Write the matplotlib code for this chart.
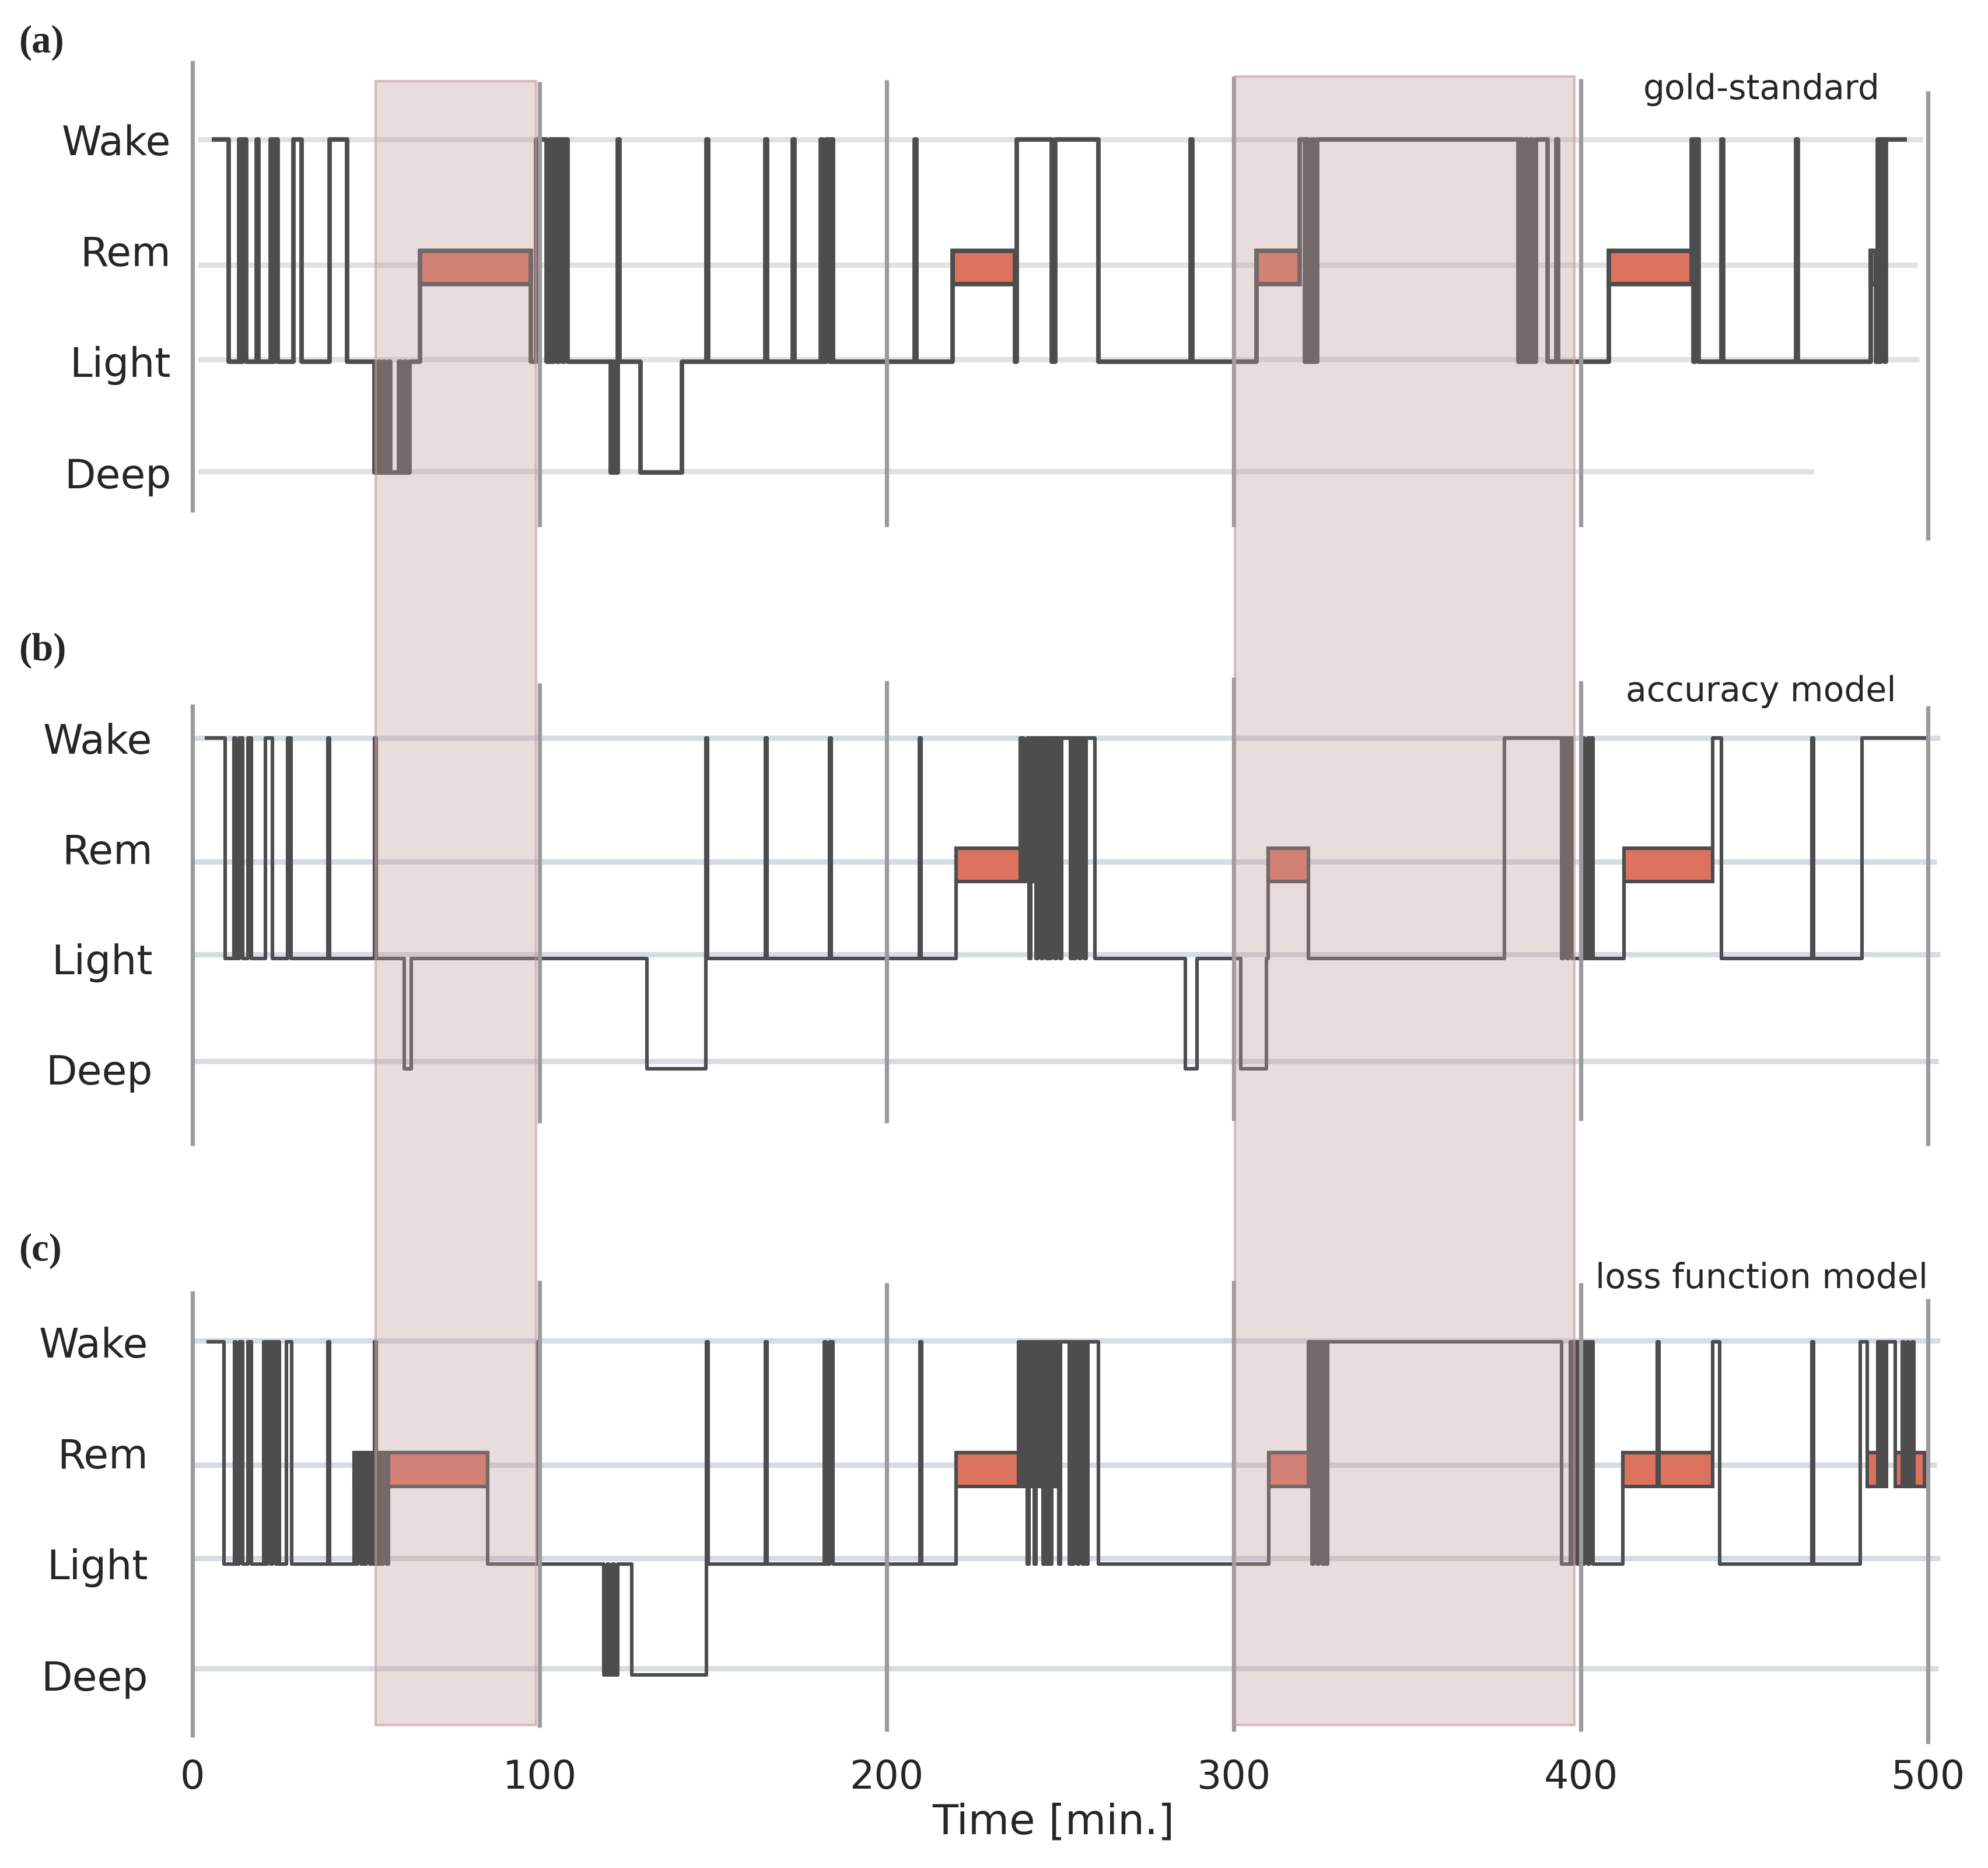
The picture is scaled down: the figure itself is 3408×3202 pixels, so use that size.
import matplotlib
matplotlib.use("Agg")
import matplotlib.pyplot as plt
from matplotlib.patches import Rectangle
from matplotlib.transforms import blended_transform_factory

plt.rcParams['font.family'] = ['DejaVu Sans']

# sleep stages, bottom to top
stage_labels = ['Deep', 'Light', 'Rem', 'Wake']
level = {'D': 0, 'L': 1, 'R': 2, 'W': 3}
time_ticks = [0, 100, 200, 300, 400, 500]

# change points [min] and the stage that starts there (last entry = end of record)
gold_t = [5.5, 10.5, 13.5, 14.0, 14.5, 15.5, 18.5, 19.0, 22.5, 23.0, 23.5, 24.5, 29.0, 31.5, 39.5, 44.5,
          52.5, 53.5, 54.0, 55.0, 55.5, 56.5, 57.0, 59.5, 60.0, 61.0, 61.5, 62.5, 65.5, 97.5,
          99.0, 102.0, 103.0, 103.5, 104.0, 105.0, 105.5, 106.5, 107.0, 108.0,
          120.5, 121.0, 121.5, 122.5, 123.0, 129.0, 141.0, 148.0, 148.5, 165.0, 165.5,
          173.0, 173.5, 181.0, 181.5, 182.5, 183.5, 184.0, 184.5, 208.0, 208.5,
          219.0, 237.0, 237.5, 247.5, 248.5, 261.0, 287.5, 288.0, 306.5,
          319.0, 320.5, 321.0, 321.5, 322.5, 323.0, 324.0,
          382.0, 382.5, 383.0, 384.0, 384.5, 385.5, 386.0, 387.0, 390.5, 393.0, 393.5,
          408.0, 432.0, 432.5, 433.0, 434.0, 440.5, 441.0, 462.0, 462.5,
          483.5, 485.0, 485.5, 486.0, 486.5, 487.5, 488.0, 494.0]
gold_s = list("WLWLWLWLWLWLWLWL"
              "DLDLDLDLDLDLRL"
              "WLWLWLWLWL"
              "DLDWLDLWLWL"
              "WLWLWLWLWL"
              "RLWLWLWLR"
              "WLWLWLW"
              "LWLWLWLWLWL"
              "RWLWLWLWL"
              "RLWLWLWW")

acc_t = [3.5, 9.5, 12.0, 12.5, 13.5, 14.5, 16.0, 17.0, 21.0, 23.0, 27.5, 28.5, 39.0, 39.5, 52.5, 53.0,
         61.0, 63.0, 131.0, 148.0, 148.5, 165.0, 165.5, 183.5, 184.0, 209.5, 210.0,
         220.0, 238.5, 239.5, 240.5, 241.0, 241.5, 242.0, 242.5, 243.0, 243.5, 244.5, 245.0,
         246.0, 246.5, 247.0, 247.5, 248.5, 249.0, 250.0, 250.5,
         253.0, 253.5, 254.0, 254.5, 255.5, 256.0, 257.0, 257.5, 260.0,
         286.0, 289.5, 302.0, 309.5, 310.0, 321.5, 378.0,
         394.5, 395.0, 396.0, 396.5, 397.5, 400.5, 401.0, 402.0, 402.5, 403.0, 403.5,
         412.5, 438.0, 440.5, 466.5, 467.0, 481.0, 499.5]
acc_s = list("WLWLWLWLWLWLWLWL"
             "DLDWLWLWLWL"
             "RWRWLWRWLWLWLWLWLWLW"
             "LWLWLWLWL"
             "DLDLRLW"
             "LWLWLWLWLWL"
             "RWLWLWW")

loss_t = [4.0, 9.0, 12.0, 12.5, 13.5, 14.5, 16.0, 17.0, 20.5, 21.0, 21.5, 22.5, 23.0, 24.0, 24.5, 25.0,
          27.0, 28.5, 39.0, 39.5,
          46.5, 47.0, 47.5, 48.5, 49.0, 49.5, 50.0, 51.0, 51.5, 52.0, 52.5, 53.0, 54.0, 54.5,
          55.0, 56.0, 56.5, 85.0,
          99.5, 100.0, 118.5, 119.5, 120.0, 121.0, 121.5, 122.5, 126.5, 148.0, 148.5, 165.0, 165.5,
          182.0, 182.5, 183.5, 184.5, 209.5, 210.0,
          220.0, 238.0, 238.5, 239.0, 239.5, 240.0, 240.5, 241.0, 241.5, 242.0, 242.5, 243.0,
          243.5, 244.0, 245.0, 245.5, 246.0, 246.5, 247.0, 247.5, 248.0, 248.5, 249.5, 250.0,
          252.5, 253.0, 253.5, 254.0, 255.0, 255.5, 256.5, 257.0, 257.5, 258.0, 261.0, 310.0,
          321.5, 322.5, 323.0, 324.0, 324.5, 325.5, 326.0, 326.5, 327.0,
          394.5, 397.0, 397.5, 398.0, 399.0, 399.5, 400.5, 401.0, 402.0, 402.5, 403.5,
          412.0, 422.0, 422.5, 438.0, 440.0, 466.5, 467.0, 480.5, 482.5, 485.5, 486.0, 486.5,
          487.5, 488.0, 490.5, 492.5, 493.0, 494.0, 494.5, 495.5, 496.0, 499.0]
loss_s = list("WLWLWLWLWLWLWLWLWLWL"
              "RLRLRLRLRLWLRLRLRL"
              "WLDLDLDLDWLWLWLWLWL"
              "RWRWRWLWRWLWRWLWLWLWRWLW"
              "LWLWLWLWLWLR"
              "WLWLWLWLW"
              "LWLWLWLWLWL"
              "RWRWLWLWRWRWRWRWRWRWRR")

# highlighted intervals [min]
highlight_start = [52.8, 300.3]
highlight_end = [99.0, 398.2]

titles = ['gold-standard', 'accuracy model', 'loss function model']
letters = ['(a)', '(b)', '(c)']
series = [(gold_t, gold_s), (acc_t, acc_s), (loss_t, loss_s)]

# layout / style per panel
rects = [[0.0909, 0.6995, 0.8963, 0.2733],
         [0.0816, 0.3806, 0.9056, 0.2715],
         [0.0794, 0.0647, 0.9079, 0.2645]]
xlims = [(-3.4, 510), (-8.7, 510), (-10, 510)]
ylims = [(-0.8, 3.8), (-0.8, 3.8), (-0.65, 3.8)]
line_w = [2.8, 2.2, 2.2]
grid_col = ['#dfe3e2', '#d6dce4', '#d6dce4']
grid_lv = [[0.01, 1.02, 1.87, 3.0], [0.07, 1.04, 1.88, 3.0], [0.06, 1.05, 1.89, 3.01]]
grid_x0 = [1.5, -0.5, -0.5]
grid_x1 = [[467, 497.5, 497, 498.5], [503, 503.5, 502.5, 503.5], [503, 503.5, 502.5, 503.5]]
vl_top = [[3.71, 3.52, 3.54, 3.57, 3.55, 3.44],
          [3.31, 3.50, 3.52, 3.55, 3.52, 3.29],
          [3.46, 3.55, 3.53, 3.55, 3.53, 3.39]]
vl_bot = [[-0.36, -0.49, -0.49, -0.49, -0.49, -0.61],
          [-0.70, -0.49, -0.49, -0.47, -0.47, -0.70],
          [-0.56, -0.47, -0.51, -0.51, -0.51, -0.62]]
title_y = [3.45, 3.42, 3.57]
letter_y = [0.9772, 0.6518, 0.3304]

DARK = '#4d4d4d'
RED = '#dc735f'
TXT = '#262626'

fig = plt.figure(figsize=(17.04, 16.01), dpi=200)
axes = []
for k in range(3):
    ax = fig.add_axes(rects[k])
    axes.append(ax)
    t, s = series[k]
    y = [level[c] for c in s]

    ax.hlines(grid_lv[k], grid_x0[k], grid_x1[k], colors=grid_col[k], lw=3.3, zorder=1)

    # REM periods as boxes hanging under the REM level
    starts, widths = [], []
    for i in range(len(s) - 1):
        if s[i] == 'R':
            starts.append(t[i])
            widths.append(t[i + 1] - t[i])
    ax.bar(starts, 0.3, width=widths, bottom=level['R'] - 0.3, align='edge',
           color=RED, edgecolor=DARK, linewidth=line_w[k], zorder=2)

    ax.step(t, y, where='post', color=DARK, lw=line_w[k], zorder=3,
            solid_joinstyle='round', solid_capstyle='butt')

    ax.vlines(time_ticks, vl_bot[k], vl_top[k], colors='#9b9b9b', lw=2.6,
              zorder=4, clip_on=False)

    ax.text(452, title_y[k], titles[k], ha='center', va='center', fontsize=21, color=TXT)
    fig.text(0.0094, letter_y[k], letters[k], family='Liberation Serif', fontweight='bold',
             fontsize=24, va='center', color=TXT)

    ax.set_xlim(*xlims[k])
    ax.set_ylim(*ylims[k])
    ax.set_yticks(range(4))
    ax.set_yticklabels(stage_labels, fontsize=25, color=TXT)
    ax.tick_params(axis='y', length=0, pad=6)
    if k < 2:
        ax.set_xticks([])
    else:
        ax.set_xticks(time_ticks)
        ax.set_xticklabels([str(v) for v in time_ticks], fontsize=24, color=TXT)
        ax.tick_params(axis='x', length=0, pad=7)
    for sp in ax.spines.values():
        sp.set_visible(False)
    ax.patch.set_alpha(0)

fig.text(0.530, 0.0244, 'Time [min.]', ha='center', va='center', fontsize=26, color=TXT)

# shaded windows spanning all three panels
tr = blended_transform_factory(axes[2].transData, fig.transFigure)
span_top = [0.9566, 0.9591]
for a, b, top in zip(highlight_start, highlight_end, span_top):
    fig.add_artist(Rectangle((a, 0.0765), b - a, top - 0.0765, transform=tr,
                             facecolor=(193 / 255, 156 / 255, 159 / 255, 0.35),
                             edgecolor=(0.78, 0.6, 0.63, 0.6), lw=1.5, zorder=10))

fig.savefig('out.png', dpi=200)
